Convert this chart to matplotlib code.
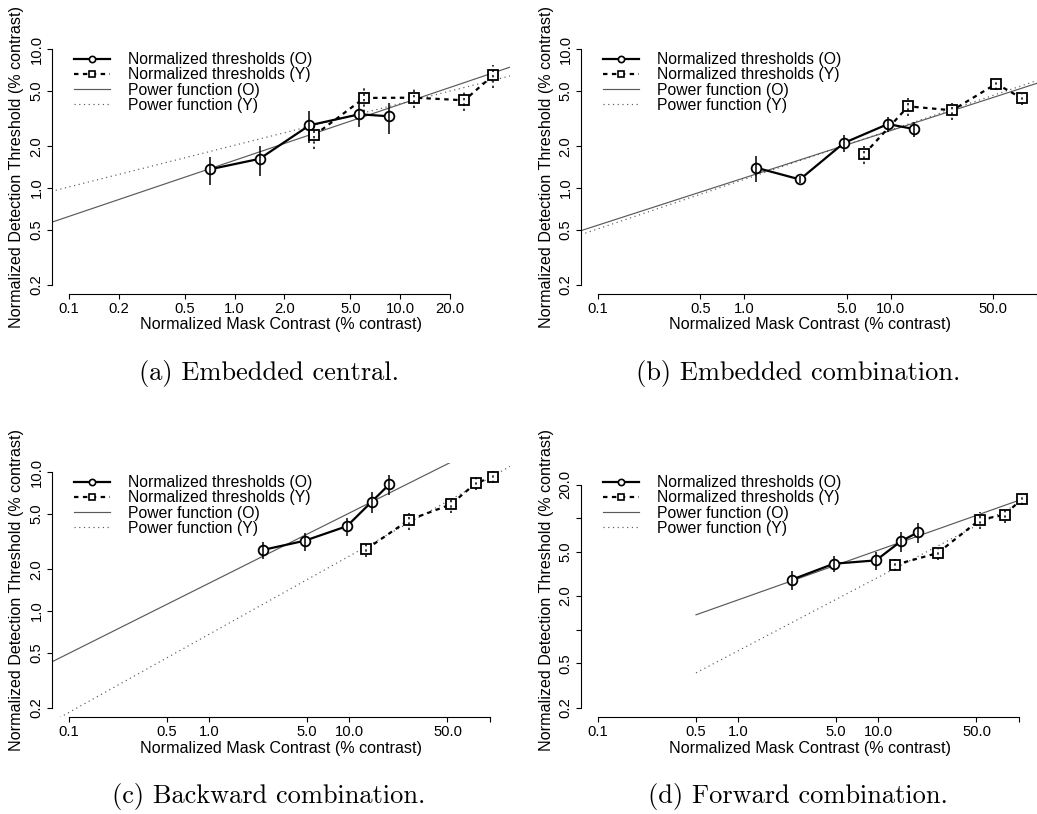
import numpy as np
import matplotlib
matplotlib.use("Agg")
import matplotlib.pyplot as plt
from matplotlib.lines import Line2D

plt.rcParams["font.family"] = ["Liberation Sans", "DejaVu Sans"]

# ---------------- data ----------------
# (a) Embedded central
a_old_x = [0.707, 1.414, 2.83, 5.66, 8.49]
a_old_y = [1.36, 1.62, 2.83, 3.40, 3.29]
a_old_lo = [1.05, 1.22, 2.11, 2.75, 2.46]
a_old_hi = [1.66, 2.01, 3.57, 4.12, 4.10]
a_young_x = [3.03, 6.07, 12.1, 24.4, 36.3]
a_young_y = [2.40, 4.46, 4.48, 4.29, 6.49]
a_young_lo = [1.92, 3.53, 3.79, 3.60, 5.29]
a_young_hi = [2.95, 5.29, 5.15, 4.90, 7.75]
a_fit_old = (1.58, 0.405)      # (scale, exponent)
a_fit_young = (2.03, 0.301)

# (b) Embedded combination
b_old_x = [1.2, 2.4, 4.8, 9.6, 14.4]
b_old_y = [1.40, 1.15, 2.11, 2.89, 2.66]
b_old_lo = [1.10, 1.09, 1.82, 2.53, 2.33]
b_old_hi = [1.70, 1.21, 2.42, 3.25, 2.99]
b_young_x = [6.6, 13.2, 26.4, 52.8, 79.2]
b_young_y = [1.75, 3.88, 3.63, 5.65, 4.43]
b_young_lo = [1.48, 3.30, 3.10, 5.11, 3.99]
b_young_hi = [2.01, 4.43, 4.12, 6.07, 4.75]
b_fit_old = (1.18, 0.3415)
b_fit_young = (1.15, 0.357)

# (c) Backward combination
c_old_x = [2.4, 4.8, 9.6, 14.4, 19.2]
c_old_y = [2.75, 3.21, 4.09, 6.14, 8.19]
c_old_lo = [2.36, 2.71, 3.46, 5.11, 6.85]
c_old_hi = [3.12, 3.66, 4.65, 7.17, 9.57]
c_young_x = [13.2, 26.4, 52.8, 79.2, 105.6]
c_young_y = [2.79, 4.52, 5.87, 8.33, 9.30]
c_young_lo = [2.43, 3.83, 5.13, 7.45, 8.40]
c_young_hi = [3.15, 5.13, 6.30, 9.20, 10.2]
c_fit_old = (1.585, 0.507)
c_fit_young = (0.678, 0.565)

# (d) Forward combination
d_old_x = [2.4, 4.8, 9.6, 14.4, 19.2]
d_old_y = [2.80, 3.90, 4.18, 6.18, 7.49]
d_old_lo = [2.28, 3.28, 3.45, 4.93, 6.00]
d_old_hi = [3.35, 4.57, 4.96, 7.50, 9.05]
d_young_x = [13.2, 26.4, 52.8, 79.2, 105.6]
d_young_y = [3.82, 4.86, 9.66, 10.7, 14.9]
d_young_lo = [3.35, 4.17, 8.00, 9.00, 13.0]
d_young_hi = [4.30, 5.30, 11.3, 12.0, 16.2]
d_fit_old = (1.85, 0.446)
d_fit_young = (0.647, 0.660)

# axis ticks
ticks_x_a = [0.1, 0.2, 0.5, 1, 2, 5, 10, 20]
labels_x_a = ["0.1", "0.2", "0.5", "1.0", "2.0", "5.0", "10.0", "20.0"]
ticks_x_bcd = [0.1, 0.5, 1, 5, 10, 50, 100]
labels_x_bcd = ["0.1", "0.5", "1.0", "5.0", "10.0", "50.0", ""]
ticks_y_abc = [0.2, 0.5, 1, 2, 5, 10]
labels_y_abc = ["0.2", "0.5", "1.0", "2.0", "5.0", "10.0"]
ticks_y_d = [0.2, 0.5, 1, 2, 5, 10, 20]
labels_y_d = ["0.2", "0.5", "", "2.0", "5.0", "", "20.0"]

legend_labels = ["Normalized thresholds (O)", "Normalized thresholds (Y)",
                 "Power function (O)", "Power function (Y)"]
captions = ["(a) Embedded central.", "(b) Embedded combination.",
            "(c) Backward combination.", "(d) Forward combination."]

# ---------------- layout ----------------
W, H = 1037, 814
fig = plt.figure(figsize=(W / 100, H / 100), dpi=100)

PW, PH = 458, 254          # plot region in pixels
TICK_FS = 10.6
LABEL_FS = 11.6
LEG_FS = 11.3
GRAY = "#5a5a5a"
DASH = (0, (2, 2))
DOT = (0, (1, 3))


def expand_log(lo, hi, frac=0.04):
    l, h = np.log10(lo), np.log10(hi)
    d = frac * (h - l)
    return 10 ** (l - d), 10 ** (h + d)


def panel(left, top, old, young, fit_old, fit_young, fit_range,
          xdata_max, ydata_max, xt, xl, yt, yl, caption, cap_x):
    ax = fig.add_axes([left / W, (H - top - PH) / H, PW / W, PH / H])
    ax.set_xscale("log")
    ax.set_yscale("log")
    ax.set_xlim(*expand_log(0.1, xdata_max))
    ax.set_ylim(*expand_log(0.2, ydata_max))
    ax.patch.set_visible(False)

    # fitted power functions
    xs = np.logspace(np.log10(fit_range[0]), np.log10(fit_range[1]), 200)
    ax.plot(xs, fit_old[0] * xs ** fit_old[1], color=GRAY, lw=0.85, zorder=1)
    ax.plot(xs, fit_young[0] * xs ** fit_young[1], color=GRAY, lw=0.85,
            ls=DOT, zorder=1)

    # thresholds with error bars
    ox, oy, olo, ohi = old
    yx, yy, ylo, yhi = young
    ax.plot(ox, oy, color="k", lw=1.6, zorder=2)
    ax.plot(yx, yy, color="k", lw=1.6, ls=DASH, zorder=2)
    ax.plot(ox, oy, ls="none", marker="o", ms=7, mfc="white", mec="k",
            mew=1.3, zorder=3)
    ax.plot(yx, yy, ls="none", marker="s", ms=6.5, mfc="white", mec="k",
            mew=1.3, zorder=3)
    ax.vlines(ox, olo, ohi, color="k", lw=1.1, zorder=4)
    ax.vlines(yx, ylo, yhi, color="k", lw=1.1, linestyles=[(0, (1.5, 2))],
              zorder=4)

    # R-style axes
    for s in ("top", "right"):
        ax.spines[s].set_visible(False)
    for s in ("left", "bottom"):
        ax.spines[s].set_linewidth(0.8)
    ax.spines["bottom"].set_bounds(xt[0], xt[-1])
    ax.spines["left"].set_bounds(yt[0], yt[-1])
    ax.set_xticks(xt)
    ax.set_xticklabels(xl)
    ax.set_yticks(yt)
    ax.set_yticklabels(yl)
    ax.minorticks_off()
    ax.tick_params(axis="both", direction="out", length=3.6, width=0.8,
                   labelsize=TICK_FS, pad=2.5)
    for lab in ax.get_yticklabels():
        lab.set_rotation(90)
        lab.set_va("center")

    ax.text(0.5, -31 / PH, "Normalized Mask Contrast (% contrast)",
            transform=ax.transAxes, ha="center", va="center",
            fontsize=LABEL_FS)
    ax.text(-35 / PW, 0.5, "Normalized Detection Threshold (% contrast)",
            transform=ax.transAxes, ha="center", va="center", rotation=90,
            fontsize=LABEL_FS)

    handles = [
        Line2D([], [], color="k", lw=1.6, marker="o", ms=4.5, mfc="white",
               mew=1.2),
        Line2D([], [], color="k", lw=1.6, ls=DASH, marker="s", ms=4.5,
               mfc="white", mew=1.2),
        Line2D([], [], color=GRAY, lw=0.85),
        Line2D([], [], color=GRAY, lw=0.85, ls=DOT),
    ]
    ax.legend(handles, legend_labels, loc="upper left",
              bbox_to_anchor=(22 / PW, 1 - 12 / PH), frameon=False,
              fontsize=LEG_FS, handlelength=2.3, handletextpad=1.15,
              labelspacing=0.02, borderpad=0, borderaxespad=0)

    fig.text(cap_x / W, 1 - (top + PH + 79) / H, caption,
             ha="center", va="center", fontsize=19, family="cmr10")
    return ax


panel(52, 40,
      (a_old_x, a_old_y, a_old_lo, a_old_hi),
      (a_young_x, a_young_y, a_young_lo, a_young_hi),
      a_fit_old, a_fit_young, (0.05, 200), max(a_young_x), 10,
      ticks_x_a, labels_x_a, ticks_y_abc, labels_y_abc, captions[0], 269)

panel(581, 40,
      (b_old_x, b_old_y, b_old_lo, b_old_hi),
      (b_young_x, b_young_y, b_young_lo, b_young_hi),
      b_fit_old, b_fit_young, (0.05, 300), max(b_young_x), 10,
      ticks_x_bcd, labels_x_bcd, ticks_y_abc, labels_y_abc, captions[1], 798)

panel(52, 463,
      (c_old_x, c_old_y, c_old_lo, c_old_hi),
      (c_young_x, c_young_y, c_young_lo, c_young_hi),
      c_fit_old, c_fit_young, (0.05, 300), max(c_young_x), 10,
      ticks_x_bcd, labels_x_bcd, ticks_y_abc, labels_y_abc, captions[2], 269)

panel(581, 463,
      (d_old_x, d_old_y, d_old_lo, d_old_hi),
      (d_young_x, d_young_y, d_young_lo, d_young_hi),
      d_fit_old, d_fit_young, (0.5, max(d_young_x)), max(d_young_x), 25.7,
      ticks_x_bcd, labels_x_bcd, ticks_y_d, labels_y_d, captions[3], 798)

fig.savefig("out.png", dpi=100)
